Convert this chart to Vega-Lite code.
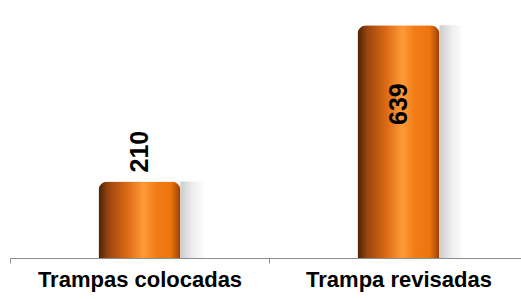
{
  "$schema": "https://vega.github.io/schema/vega-lite/v6.json",
  "width": 511,
  "height": 255,
  "autosize": {"type": "none"},
  "padding": {"left": 10, "top": 3, "right": 0, "bottom": 41},
  "background": "white",
  "config": {"view": {"stroke": null}},
  "data": {"values": [
    {"categoria": "Trampas colocadas", "valor": 210},
    {"categoria": "Trampa revisadas", "valor": 639}
  ]},
  "encoding": {
    "x": {
      "field": "categoria", "type": "nominal", "sort": null,
      "scale": {"range": [0, 518], "paddingInner": 0, "paddingOuter": 0},
      "axis": {
        "title": null, "labelAngle": 0, "tickBand": "extent", "labelLimit": 0,
        "domainColor": "#8c8c8c", "tickColor": "#8c8c8c", "tickSize": 5,
        "labelFont": "Liberation Sans", "labelFontSize": 22, "labelFontWeight": "bold",
        "labelColor": "#000000", "labelPadding": 6
      }
    },
    "y": {
      "field": "valor", "type": "quantitative",
      "scale": {"domain": [0, 700]},
      "axis": null
    }
  },
  "layer": [
    {
      "mark": {
        "type": "bar", "size": 24, "xOffset": 53,
        "color": {"gradient": "linear", "x1": 0, "x2": 1, "y1": 0, "y2": 0,
          "stops": [
            {"offset": 0, "color": "rgba(0,0,0,0.2)"},
            {"offset": 0.5, "color": "rgba(0,0,0,0.07)"},
            {"offset": 1, "color": "rgba(0,0,0,0)"}
          ]}
      }
    },
    {
      "mark": {
        "type": "bar", "size": 82,
        "cornerRadiusTopLeft": 9, "cornerRadiusTopRight": 9,
        "color": {"gradient": "linear", "x1": 0, "x2": 1, "y1": 0, "y2": 0,
          "stops": [
            {"offset": 0, "color": "#4a2205"},
            {"offset": 0.12, "color": "#9a4510"},
            {"offset": 0.35, "color": "#dc6a14"},
            {"offset": 0.55, "color": "#ff9a3a"},
            {"offset": 0.7, "color": "#f27c16"},
            {"offset": 0.88, "color": "#ee7410"},
            {"offset": 0.97, "color": "#b04e08"},
            {"offset": 1, "color": "#8a3c06"}
          ]}
      }
    },
    {
      "transform": [{"filter": "datum.valor < 400"}],
      "mark": {
        "type": "text", "angle": 270, "align": "left", "baseline": "middle",
        "dx": 9, "font": "Liberation Sans", "fontSize": 25, "fontWeight": "bold",
        "color": "#000000"
      },
      "encoding": {"text": {"field": "valor", "type": "quantitative"}}
    },
    {
      "transform": [{"filter": "datum.valor >= 400"}],
      "mark": {
        "type": "text", "angle": 270, "align": "right", "baseline": "middle",
        "dx": -58, "font": "Liberation Sans", "fontSize": 25, "fontWeight": "bold",
        "color": "#000000"
      },
      "encoding": {"text": {"field": "valor", "type": "quantitative"}}
    }
  ]
}
